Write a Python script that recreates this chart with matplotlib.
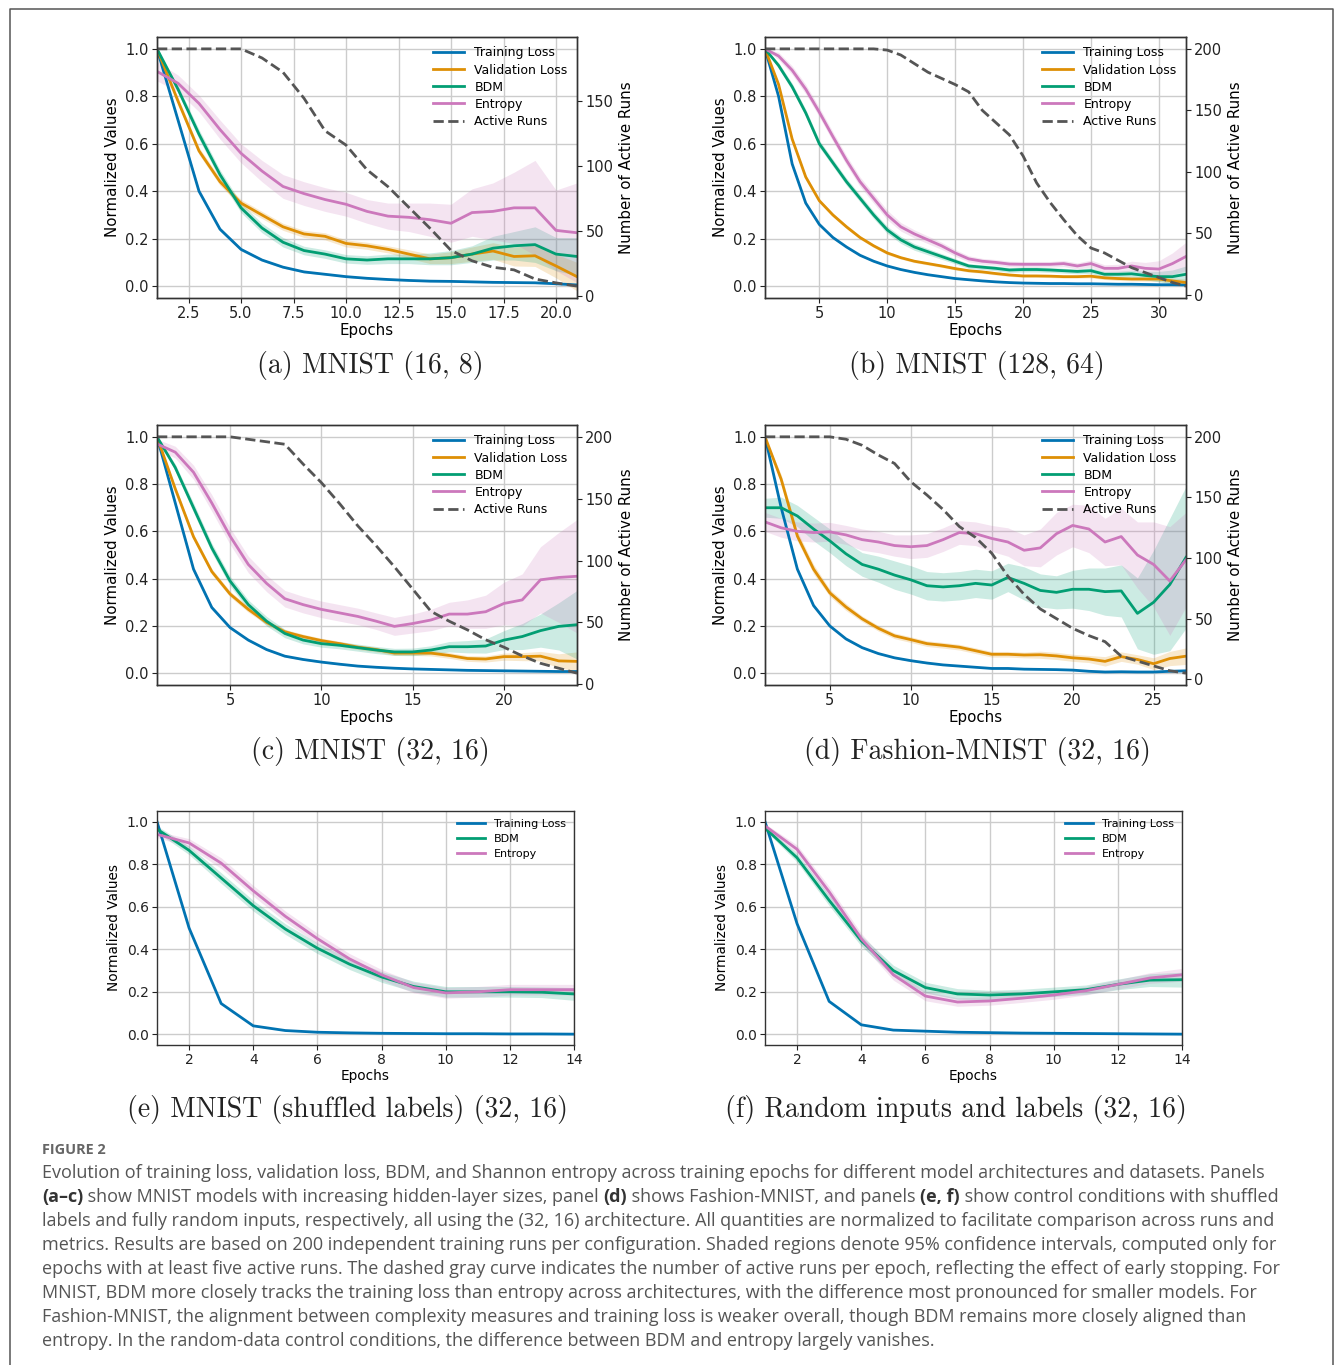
import numpy as np
import matplotlib
matplotlib.use("Agg")
import matplotlib.pyplot as plt
from matplotlib.lines import Line2D

# ---------------- data ----------------
series_labels = ["Training Loss", "Validation Loss", "BDM", "Entropy", "Active Runs"]
colors = {"train": "#0173B2", "val": "#DE8F05", "bdm": "#029E73", "ent": "#CC78BC", "runs": "#555555"}

# (a) MNIST (16, 8)
a_epochs = list(range(1, 22))
a_train = [1.0, 0.70, 0.40, 0.24, 0.155, 0.11, 0.08, 0.06, 0.05, 0.04, 0.033, 0.028, 0.024, 0.021, 0.02, 0.018, 0.016, 0.015, 0.014, 0.01, 0.005]
a_val = [1.0, 0.78, 0.57, 0.44, 0.35, 0.30, 0.25, 0.22, 0.21, 0.18, 0.17, 0.155, 0.135, 0.115, 0.12, 0.135, 0.148, 0.125, 0.128, 0.085, 0.04]
a_bdm = [1.0, 0.83, 0.64, 0.47, 0.33, 0.245, 0.185, 0.15, 0.135, 0.115, 0.11, 0.115, 0.115, 0.115, 0.12, 0.135, 0.16, 0.17, 0.175, 0.135, 0.125]
a_ent = [0.905, 0.855, 0.77, 0.66, 0.56, 0.485, 0.42, 0.39, 0.365, 0.345, 0.315, 0.295, 0.29, 0.28, 0.265, 0.31, 0.315, 0.33, 0.33, 0.235, 0.225]
a_train_ci = [0.0, 0.01, 0.01, 0.008, 0.006, 0.005, 0.004, 0.004, 0.003, 0.003, 0.003, 0.003, 0.003, 0.003, 0.003, 0.003, 0.003, 0.003, 0.003, 0.003, 0.003]
a_val_ci = [0.0, 0.015, 0.015, 0.015, 0.015, 0.015, 0.015, 0.015, 0.015, 0.015, 0.015, 0.015, 0.018, 0.02, 0.025, 0.03, 0.035, 0.04, 0.045, 0.05, 0.06]
a_bdm_ci = [0.0, 0.015, 0.02, 0.02, 0.02, 0.02, 0.02, 0.018, 0.018, 0.018, 0.018, 0.02, 0.02, 0.025, 0.03, 0.035, 0.05, 0.06, 0.075, 0.07, 0.08]
a_ent_ci = [0.04, 0.035, 0.035, 0.04, 0.04, 0.045, 0.05, 0.05, 0.05, 0.05, 0.05, 0.055, 0.06, 0.07, 0.08, 0.1, 0.12, 0.15, 0.2, 0.17, 0.21]
a_runs = [190, 190, 190, 190, 190, 183, 172, 152, 127, 116, 97, 84, 68, 52, 35, 27, 22, 20, 13, 10, 7.5]
a_xticks = [2.5, 5.0, 7.5, 10.0, 12.5, 15.0, 17.5, 20.0]

# (b) MNIST (128, 64)
b_epochs = list(range(1, 33))
b_train = [1.0, 0.80, 0.515, 0.35, 0.26, 0.205, 0.165, 0.13, 0.105, 0.085, 0.07, 0.058, 0.048, 0.04, 0.032, 0.027, 0.022, 0.018, 0.015, 0.013, 0.012, 0.011, 0.011, 0.01, 0.01, 0.009, 0.008, 0.008, 0.007, 0.006, 0.006, 0.005]
b_val = [1.0, 0.85, 0.62, 0.46, 0.36, 0.30, 0.25, 0.205, 0.17, 0.14, 0.12, 0.105, 0.095, 0.085, 0.074, 0.065, 0.06, 0.053, 0.047, 0.043, 0.043, 0.042, 0.04, 0.04, 0.042, 0.035, 0.032, 0.03, 0.03, 0.03, 0.022, 0.015]
b_bdm = [1.0, 0.93, 0.84, 0.73, 0.60, 0.52, 0.44, 0.37, 0.30, 0.237, 0.195, 0.165, 0.145, 0.125, 0.105, 0.085, 0.08, 0.075, 0.068, 0.07, 0.07, 0.068, 0.065, 0.062, 0.065, 0.05, 0.05, 0.052, 0.045, 0.04, 0.04, 0.05]
b_ent = [1.0, 0.97, 0.91, 0.83, 0.733, 0.63, 0.53, 0.44, 0.37, 0.30, 0.25, 0.22, 0.195, 0.17, 0.14, 0.115, 0.105, 0.1, 0.093, 0.092, 0.092, 0.092, 0.095, 0.085, 0.095, 0.075, 0.075, 0.085, 0.075, 0.072, 0.095, 0.125]
b_train_ci = [0.0, 0.008, 0.008, 0.006, 0.005, 0.004, 0.004, 0.003, 0.003, 0.003, 0.003, 0.002, 0.002, 0.002, 0.002, 0.002, 0.002, 0.002, 0.002, 0.002, 0.002, 0.002, 0.002, 0.002, 0.002, 0.002, 0.002, 0.002, 0.002, 0.002, 0.002, 0.002]
b_val_ci = [0.0, 0.008, 0.008, 0.008, 0.008, 0.008, 0.008, 0.007, 0.007, 0.007, 0.006, 0.006, 0.006, 0.006, 0.006, 0.006, 0.006, 0.006, 0.006, 0.006, 0.006, 0.006, 0.006, 0.006, 0.007, 0.007, 0.008, 0.008, 0.009, 0.01, 0.012, 0.015]
b_bdm_ci = [0.0, 0.012, 0.015, 0.015, 0.015, 0.015, 0.015, 0.015, 0.015, 0.015, 0.015, 0.014, 0.013, 0.012, 0.011, 0.01, 0.01, 0.01, 0.01, 0.01, 0.01, 0.01, 0.01, 0.01, 0.012, 0.012, 0.013, 0.015, 0.018, 0.022, 0.028, 0.035]
b_ent_ci = [0.0, 0.015, 0.018, 0.02, 0.02, 0.02, 0.02, 0.02, 0.02, 0.02, 0.018, 0.017, 0.016, 0.015, 0.014, 0.013, 0.012, 0.012, 0.012, 0.012, 0.012, 0.012, 0.013, 0.013, 0.015, 0.015, 0.017, 0.02, 0.025, 0.035, 0.045, 0.06]
b_runs = [200, 200, 200, 200, 200, 200, 200, 200, 200, 199, 195, 188, 181, 176, 171, 165, 150, 140, 130, 113, 91, 75, 61, 48, 38, 34, 28, 22, 18, 14, 10, 7]
b_xticks = [5, 10, 15, 20, 25, 30]

# (c) MNIST (32, 16)
c_epochs = list(range(1, 25))
c_train = [1.0, 0.72, 0.44, 0.278, 0.193, 0.14, 0.1, 0.072, 0.058, 0.047, 0.038, 0.03, 0.025, 0.021, 0.018, 0.016, 0.014, 0.012, 0.011, 0.01, 0.009, 0.008, 0.007, 0.007]
c_val = [1.0, 0.78, 0.577, 0.43, 0.335, 0.27, 0.215, 0.175, 0.155, 0.138, 0.125, 0.11, 0.1, 0.085, 0.085, 0.085, 0.075, 0.062, 0.06, 0.07, 0.07, 0.072, 0.052, 0.05]
c_bdm = [1.0, 0.87, 0.70, 0.53, 0.39, 0.29, 0.22, 0.168, 0.14, 0.125, 0.118, 0.108, 0.098, 0.09, 0.09, 0.098, 0.112, 0.112, 0.115, 0.14, 0.155, 0.18, 0.198, 0.205]
c_ent = [0.97, 0.935, 0.85, 0.72, 0.58, 0.46, 0.38, 0.315, 0.29, 0.27, 0.255, 0.24, 0.22, 0.198, 0.21, 0.225, 0.25, 0.25, 0.26, 0.295, 0.31, 0.395, 0.405, 0.41]
c_train_ci = [0.0, 0.01, 0.01, 0.008, 0.006, 0.005, 0.004, 0.003, 0.003, 0.003, 0.003, 0.002, 0.002, 0.002, 0.002, 0.002, 0.002, 0.002, 0.002, 0.002, 0.002, 0.002, 0.002, 0.002]
c_val_ci = [0.0, 0.012, 0.012, 0.012, 0.012, 0.012, 0.01, 0.01, 0.01, 0.01, 0.01, 0.01, 0.01, 0.01, 0.01, 0.012, 0.012, 0.012, 0.013, 0.015, 0.017, 0.02, 0.03, 0.04]
c_bdm_ci = [0.0, 0.015, 0.02, 0.02, 0.02, 0.02, 0.02, 0.018, 0.016, 0.015, 0.015, 0.015, 0.015, 0.015, 0.016, 0.018, 0.022, 0.026, 0.03, 0.04, 0.055, 0.07, 0.1, 0.145]
c_ent_ci = [0.02, 0.025, 0.03, 0.035, 0.035, 0.035, 0.035, 0.035, 0.035, 0.035, 0.035, 0.035, 0.035, 0.038, 0.04, 0.045, 0.05, 0.06, 0.07, 0.09, 0.11, 0.14, 0.19, 0.24]
c_runs = [200, 200, 200, 200, 200, 198, 196, 194, 178, 163, 146, 128, 112, 95, 77, 59, 51, 44, 36, 30, 23, 17, 13, 9]
c_xticks = [5, 10, 15, 20]

# (d) Fashion-MNIST (32, 16)
d_epochs = list(range(1, 28))
d_train = [1.0, 0.7, 0.44, 0.286, 0.2, 0.145, 0.108, 0.083, 0.065, 0.053, 0.043, 0.035, 0.03, 0.025, 0.02, 0.02, 0.017, 0.016, 0.015, 0.013, 0.008, 0.005, 0.006, 0.005, 0.005, 0.008, 0.01]
d_val = [1.0, 0.82, 0.58, 0.44, 0.34, 0.28, 0.23, 0.19, 0.158, 0.142, 0.125, 0.118, 0.11, 0.095, 0.08, 0.08, 0.077, 0.078, 0.073, 0.065, 0.06, 0.05, 0.07, 0.058, 0.04, 0.062, 0.072]
d_bdm = [0.70, 0.70, 0.665, 0.61, 0.56, 0.505, 0.46, 0.44, 0.415, 0.395, 0.37, 0.365, 0.37, 0.38, 0.373, 0.405, 0.38, 0.35, 0.342, 0.355, 0.355, 0.345, 0.348, 0.253, 0.3, 0.375, 0.49]
d_ent = [0.64, 0.615, 0.6, 0.595, 0.598, 0.585, 0.565, 0.555, 0.54, 0.535, 0.54, 0.565, 0.595, 0.59, 0.57, 0.555, 0.52, 0.53, 0.59, 0.625, 0.61, 0.555, 0.578, 0.5, 0.46, 0.39, 0.48]
d_train_ci = [0.0, 0.01, 0.01, 0.008, 0.006, 0.005, 0.004, 0.003, 0.003, 0.003, 0.003, 0.002, 0.002, 0.002, 0.002, 0.002, 0.002, 0.002, 0.002, 0.002, 0.002, 0.002, 0.002, 0.002, 0.002, 0.003, 0.004]
d_val_ci = [0.0, 0.02, 0.02, 0.02, 0.015, 0.015, 0.012, 0.012, 0.012, 0.012, 0.012, 0.012, 0.012, 0.012, 0.012, 0.012, 0.012, 0.015, 0.015, 0.015, 0.015, 0.02, 0.02, 0.02, 0.025, 0.03, 0.035]
d_bdm_ci = [0.04, 0.045, 0.045, 0.05, 0.05, 0.05, 0.05, 0.055, 0.06, 0.06, 0.06, 0.06, 0.06, 0.06, 0.06, 0.06, 0.07, 0.07, 0.07, 0.08, 0.09, 0.1, 0.11, 0.15, 0.22, 0.28, 0.3]
d_ent_ci = [0.04, 0.04, 0.04, 0.04, 0.04, 0.04, 0.045, 0.045, 0.045, 0.05, 0.05, 0.05, 0.05, 0.05, 0.055, 0.06, 0.065, 0.08, 0.09, 0.09, 0.1, 0.1, 0.12, 0.14, 0.18, 0.23, 0.2]
d_runs = [200, 200, 200, 200, 200, 198, 193, 185, 178, 163, 152, 140, 126, 117, 104, 85, 70, 58, 50, 42, 36, 31, 19, 15, 11, 7, 5]
d_xticks = [5, 10, 15, 20, 25]

# (e) MNIST shuffled labels (32, 16)
e_epochs = list(range(1, 15))
e_train = [1.0, 0.50, 0.145, 0.04, 0.018, 0.01, 0.007, 0.005, 0.004, 0.003, 0.003, 0.002, 0.002, 0.001]
e_bdm = [0.965, 0.865, 0.735, 0.605, 0.495, 0.405, 0.33, 0.27, 0.225, 0.2, 0.2, 0.2, 0.198, 0.19]
e_ent = [0.94, 0.9, 0.805, 0.675, 0.555, 0.45, 0.355, 0.28, 0.22, 0.195, 0.2, 0.21, 0.21, 0.21]
e_train_ci = [0.0, 0.004, 0.003, 0.002, 0.001, 0.001, 0.001, 0.001, 0.001, 0.001, 0.001, 0.001, 0.001, 0.001]
e_bdm_ci = [0.015, 0.02, 0.025, 0.025, 0.025, 0.025, 0.025, 0.025, 0.025, 0.025, 0.025, 0.025, 0.025, 0.03]
e_ent_ci = [0.015, 0.02, 0.025, 0.025, 0.025, 0.025, 0.025, 0.025, 0.025, 0.025, 0.025, 0.025, 0.025, 0.025]
e_xticks = [2, 4, 6, 8, 10, 12, 14]

# (f) Random inputs and labels (32, 16)
f_epochs = list(range(1, 15))
f_train = [1.0, 0.52, 0.155, 0.045, 0.02, 0.015, 0.01, 0.008, 0.006, 0.005, 0.004, 0.003, 0.002, 0.001]
f_bdm = [0.97, 0.83, 0.63, 0.44, 0.3, 0.22, 0.19, 0.185, 0.19, 0.2, 0.21, 0.235, 0.255, 0.257]
f_ent = [0.98, 0.87, 0.67, 0.45, 0.28, 0.18, 0.152, 0.157, 0.17, 0.185, 0.205, 0.235, 0.265, 0.28]
f_train_ci = [0.0, 0.004, 0.003, 0.002, 0.001, 0.001, 0.001, 0.001, 0.001, 0.001, 0.001, 0.001, 0.001, 0.001]
f_bdm_ci = [0.01, 0.02, 0.025, 0.025, 0.025, 0.025, 0.025, 0.022, 0.022, 0.022, 0.022, 0.025, 0.03, 0.035]
f_ent_ci = [0.01, 0.02, 0.025, 0.025, 0.025, 0.022, 0.02, 0.02, 0.02, 0.02, 0.02, 0.022, 0.025, 0.03]
f_xticks = [2, 4, 6, 8, 10, 12, 14]

panel_captions = ["(a) MNIST (16, 8)", "(b) MNIST (128, 64)", "(c) MNIST (32, 16)",
                  "(d) Fashion-MNIST (32, 16)", "(e) MNIST (shuffled labels) (32, 16)",
                  "(f) Random inputs and labels (32, 16)"]

fig_heading = "FIGURE 2"
caption_lines = [
    [("Evolution of training loss, validation loss, BDM, and Shannon entropy across training epochs for different model architectures and datasets. Panels", False)],
    [("(a\u2013c)", True), (" show MNIST models with increasing hidden-layer sizes, panel ", False), ("(d)", True),
     (" shows Fashion-MNIST, and panels ", False), ("(e, f)", True), (" show control conditions with shuffled", False)],
    [("labels and fully random inputs, respectively, all using the (32, 16) architecture. All quantities are normalized to facilitate comparison across runs and", False)],
    [("metrics. Results are based on 200 independent training runs per configuration. Shaded regions denote 95% confidence intervals, computed only for", False)],
    [("epochs with at least five active runs. The dashed gray curve indicates the number of active runs per epoch, reflecting the effect of early stopping. For", False)],
    [("MNIST, BDM more closely tracks the training loss than entropy across architectures, with the difference most pronounced for smaller models. For", False)],
    [("Fashion-MNIST, the alignment between complexity measures and training loss is weaker overall, though BDM remains more closely aligned than", False)],
    [("entropy. In the random-data control conditions, the difference between BDM and entropy largely vanishes.", False)],
]

# ---------------- figure ----------------
W, H = 1338, 1365
fig = plt.figure(figsize=(W / 100, H / 100), dpi=100)
fig.patch.set_facecolor("white")

def rect(l, t, r, b):
    return [l / W, 1 - b / H, (r - l) / W, (b - t) / H]

def style_axes(ax, fs):
    ax.grid(True, color="#cccccc", lw=1.0)
    ax.set_axisbelow(True)
    for s in ax.spines.values():
        s.set_color("#333333")
        s.set_linewidth(1.0)
    ax.tick_params(labelsize=fs, colors="#222222", length=3.5, width=0.8, pad=2.5)

def draw_panel(r, epochs, xticks, series, runs, fs_tick=10.5, fs_label=10.8, fs_leg=9, ls=0.33):
    ax = fig.add_axes(r)
    style_axes(ax, fs_tick)
    handles = []
    for key, vals, ci, lab in series:
        v = np.array(vals)
        c = np.array(ci)
        ax.fill_between(epochs, v - c, v + c, color=colors[key], alpha=0.2, lw=0)
        h, = ax.plot(epochs, v, color=colors[key], lw=2.0, label=lab)
        handles.append(h)
    ax.set_xlim(epochs[0], epochs[-1])
    ax.set_ylim(-0.05, 1.05)
    ax.set_xticks(xticks)
    ax.set_yticks([0.0, 0.2, 0.4, 0.6, 0.8, 1.0])
    ax.set_xlabel("Epochs", fontsize=fs_label, labelpad=1)
    ax.set_ylabel("Normalized Values", fontsize=fs_label)
    top = ax
    if runs is not None:
        ax2 = ax.twinx()
        h, = ax2.plot(epochs, runs, color=colors["runs"], lw=2.0, ls="--", label="Active Runs")
        handles.append(h)
        lo, hi = min(runs), max(runs)
        span = hi - lo
        ax2.set_ylim(lo - 0.05 * span, hi + 0.05 * span)
        ax2.set_ylabel("Number of Active Runs", fontsize=fs_label)
        ax2.tick_params(labelsize=fs_tick, colors="#222222", length=3.5, width=0.8, pad=2.5)
        for s in ax2.spines.values():
            s.set_color("#333333")
            s.set_linewidth(1.0)
        top = ax2
    top.legend(handles=handles, loc="upper right", frameon=False, fontsize=fs_leg,
               handlelength=2.5, labelspacing=ls, borderaxespad=0.35)
    return ax

draw_panel(rect(157, 37, 577, 298), a_epochs, a_xticks,
           [("train", a_train, a_train_ci, "Training Loss"), ("val", a_val, a_val_ci, "Validation Loss"),
            ("bdm", a_bdm, a_bdm_ci, "BDM"), ("ent", a_ent, a_ent_ci, "Entropy")], a_runs)
draw_panel(rect(765, 37, 1186, 298), b_epochs, b_xticks,
           [("train", b_train, b_train_ci, "Training Loss"), ("val", b_val, b_val_ci, "Validation Loss"),
            ("bdm", b_bdm, b_bdm_ci, "BDM"), ("ent", b_ent, b_ent_ci, "Entropy")], b_runs)
draw_panel(rect(157, 425, 577, 685), c_epochs, c_xticks,
           [("train", c_train, c_train_ci, "Training Loss"), ("val", c_val, c_val_ci, "Validation Loss"),
            ("bdm", c_bdm, c_bdm_ci, "BDM"), ("ent", c_ent, c_ent_ci, "Entropy")], c_runs)
draw_panel(rect(765, 425, 1186, 685), d_epochs, d_xticks,
           [("train", d_train, d_train_ci, "Training Loss"), ("val", d_val, d_val_ci, "Validation Loss"),
            ("bdm", d_bdm, d_bdm_ci, "BDM"), ("ent", d_ent, d_ent_ci, "Entropy")], d_runs)
draw_panel(rect(157, 811, 574, 1045), e_epochs, e_xticks,
           [("train", e_train, e_train_ci, "Training Loss"), ("bdm", e_bdm, e_bdm_ci, "BDM"),
            ("ent", e_ent, e_ent_ci, "Entropy")], None, fs_tick=10, fs_label=9.8, fs_leg=8, ls=0.45)
draw_panel(rect(765, 811, 1182, 1045), f_epochs, f_xticks,
           [("train", f_train, f_train_ci, "Training Loss"), ("bdm", f_bdm, f_bdm_ci, "BDM"),
            ("ent", f_ent, f_ent_ci, "Entropy")], None, fs_tick=10, fs_label=9.8, fs_leg=8, ls=0.45)

# panel captions
cap_pos = [(370, 366), (977, 366), (370, 752), (977, 752), (348, 1109), (956, 1109)]
for txt, (cx, cy) in zip(panel_captions, cap_pos):
    fig.text(cx / W, 1 - cy / H, txt, ha="center", va="center", fontsize=20,
             family="cmr10", color="#222222")

# figure caption
renderer = fig.canvas.get_renderer()
cap_family = "Open Sans"
cap_color = "#555555"

def text_width(s, size, bold):
    t = fig.text(0, 0, "x" + s + "x", fontsize=size, family=cap_family,
                 weight="bold" if bold else "normal")
    t2 = fig.text(0, 0, "xx", fontsize=size, family=cap_family,
                  weight="bold" if bold else "normal")
    w = t.get_window_extent(renderer).width - t2.get_window_extent(renderer).width
    t.remove(); t2.remove()
    return w

base = 11.0
w1 = text_width(caption_lines[0][0][0], base, False)
cap_size = base * (1233.0 / w1)

fig.text(42 / W, 1 - 1150 / H, fig_heading, fontsize=cap_size * 0.8, family=cap_family,
         weight="bold", color="#666666", va="center", ha="left")
y0 = 1173
for i, line in enumerate(caption_lines):
    x = 42.0
    y = y0 + 24 * i
    for seg, bold in line:
        fig.text(x / W, 1 - y / H, seg, fontsize=cap_size, family=cap_family,
                 weight="bold" if bold else "normal", color="#333333" if bold else cap_color,
                 va="center", ha="left")
        x += text_width(seg, cap_size, bold)

# outer frame
fx0, fx1, fy0 = 9.5 / W, 1333.0 / W, 1 - 8.5 / H
fig.add_artist(Line2D([fx0, fx0, fx1, fx1], [0, fy0, fy0, 0], transform=fig.transFigure,
                      color="#555555", lw=1.1))

fig.savefig("out.png", dpi=100, facecolor="white")
